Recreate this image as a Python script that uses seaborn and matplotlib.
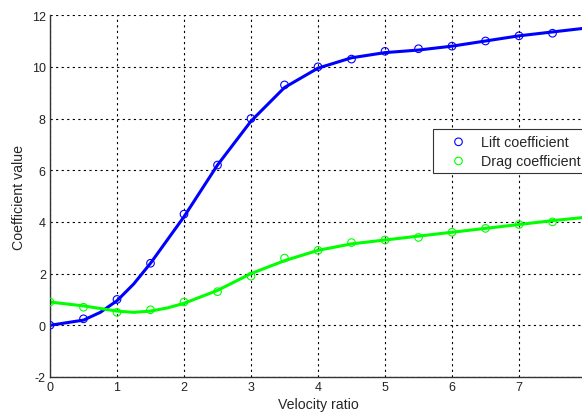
import numpy as np
import pandas as pd
import matplotlib
matplotlib.use('Agg')
import matplotlib.pyplot as plt
import seaborn as sns

# measured points (markers)
ratio = [0, 0.5, 1, 1.5, 2, 2.5, 3, 3.5, 4, 4.5, 5, 5.5, 6, 6.5, 7, 7.5]
lift = [0.0, 0.25, 1.0, 2.4, 4.3, 6.2, 8.0, 9.3, 10.0, 10.3, 10.6, 10.7, 10.8, 11.0, 11.2, 11.3]
drag = [0.9, 0.7, 0.5, 0.6, 0.9, 1.3, 1.9, 2.6, 2.9, 3.2, 3.3, 3.4, 3.6, 3.75, 3.9, 4.0]

# fitted curves
fit_ratio = [0, 0.5, 0.75, 1, 1.25, 1.5, 1.75, 2, 2.5, 3, 3.5, 4, 4.5, 5, 5.5, 6, 6.5, 7, 7.5, 8]
lift_fit = [0.0, 0.2, 0.5, 0.95, 1.6, 2.4, 3.3, 4.2, 6.2, 7.9, 9.2, 9.95, 10.35, 10.55, 10.65, 10.8, 11.0, 11.2, 11.35, 11.5]
drag_fit = [0.9, 0.75, 0.65, 0.55, 0.5, 0.55, 0.67, 0.85, 1.35, 2.0, 2.5, 2.9, 3.15, 3.3, 3.45, 3.6, 3.75, 3.9, 4.05, 4.18]

sns.set_style('white')
plt.rcParams['font.family'] = ['Liberation Sans', 'DejaVu Sans']
plt.rcParams['axes.unicode_minus'] = False

fig = plt.figure(figsize=(5.82, 4.14), dpi=100)
ax = fig.add_axes([0.0859, 0.087, 0.921, 0.874])

sns.lineplot(x=fit_ratio, y=lift_fit, color='#0000ff', linewidth=2.2, ax=ax, legend=False)
sns.lineplot(x=fit_ratio, y=drag_fit, color='#00ff00', linewidth=2.2, ax=ax, legend=False)
sns.scatterplot(x=ratio, y=lift, marker='o', s=30, facecolors='none', edgecolor='#0000ff',
                linewidth=0.8, ax=ax, label='Lift coefficient', zorder=3)
sns.scatterplot(x=ratio, y=drag, marker='o', s=30, facecolors='none', edgecolor='#00ff00',
                linewidth=0.8, ax=ax, label='Drag coefficient', zorder=3)

ax.set_xlim(0, 8)
ax.set_ylim(-2, 12)
ax.set_xticks(range(0, 8))
ax.set_yticks(range(-2, 13, 2))
ax.grid(True, color='black', linestyle=(0, (2, 3)), linewidth=0.8)
ax.tick_params(direction='in', length=3, labelsize=9, colors='#222222', pad=3)
for s in ['top', 'right']:
    ax.spines[s].set_visible(False)
for s in ['left', 'bottom']:
    ax.spines[s].set_color('#333333')
    ax.spines[s].set_linewidth(1)

ax.set_xlabel('Velocity ratio', fontsize=10.2, labelpad=3)
ax.set_ylabel('Coefficient value', fontsize=10.2, labelpad=4)

leg = ax.legend(loc='upper left', bbox_to_anchor=(0.7146, 0.685), fontsize=10.3,
                frameon=True, fancybox=False, edgecolor='#333333', framealpha=1,
                handletextpad=0.2, borderpad=0.38, labelspacing=0.36, handlelength=2.8,
                borderaxespad=0)
leg.get_frame().set_linewidth(0.8)

fig.savefig('out.png', dpi=100)
plt.close(fig)
